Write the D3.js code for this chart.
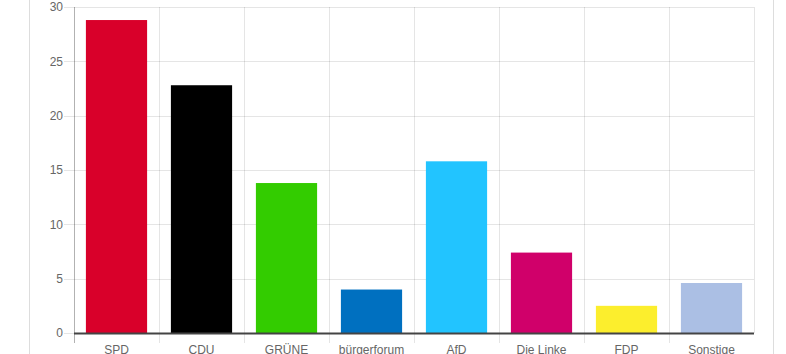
<!DOCTYPE html>
<html>
<head>
<meta charset="utf-8">
<script src="https://cdn.jsdelivr.net/npm/d3@7"></script>
<style>
  body { margin: 0; background: #fff; }
  svg text { font-family: "Liberation Sans", Arial, sans-serif; font-size: 12px; fill: #666; }
</style>
</head>
<body>
<div id="chart"></div>
<script>
// Wahlergebnis data
const parties = ['SPD', 'CDU', 'GRÜNE', 'bürgerforum', 'AfD', 'Die Linke', 'FDP', 'Sonstige'];
const votes = [28.8, 22.8, 13.8, 4.0, 15.8, 7.4, 2.5, 4.6];
const colors = ['#d9002a', '#000000', '#33cc00', '#0070c0', '#22c4ff', '#d0006a', '#fcee2d', '#abbfe4'];
const yTicks = [0, 5, 10, 15, 20, 25, 30];

const width = 786;
const height = 354;
const margin = { top: 7, left: 74, right: 32, bottom: 21 };

const svg = d3.select('#chart')
    .append('svg')
    .attr('width', width)
    .attr('height', height);

// container borders
svg.append('line').attr('x1', 29.5).attr('x2', 29.5).attr('y1', 0).attr('y2', height)
    .attr('stroke', '#ddd');
svg.append('line').attr('x1', 773.5).attr('x2', 773.5).attr('y1', 0).attr('y2', height)
    .attr('stroke', '#ddd');

const x = d3.scaleBand()
    .domain(parties)
    .range([margin.left, width - margin.right - 0]);

const y = d3.scaleLinear()
    .domain([0, 30])
    .range([height - margin.bottom, margin.top]);

// horizontal grid
svg.append('g')
    .selectAll('line')
    .data(yTicks)
    .enter()
    .append('line')
    .attr('x1', margin.left - 10)
    .attr('x2', x.range()[1])
    .attr('y1', d => Math.round(y(d)) + 0.5)
    .attr('y2', d => Math.round(y(d)) + 0.5)
    .attr('stroke', 'rgba(0,0,0,0.1)');

// vertical grid
const edges = parties.map(p => x(p)).concat([x.range()[1]]);
svg.append('g')
    .selectAll('line')
    .data(edges)
    .enter()
    .append('line')
    .attr('x1', d => Math.round(d) + 0.5)
    .attr('x2', d => Math.round(d) + 0.5)
    .attr('y1', margin.top)
    .attr('y2', (d, i) => i < parties.length ? height - margin.bottom + 10 : height - margin.bottom)
    .attr('stroke', (d, i) => i === 0 ? 'rgba(0,0,0,0.3)' : 'rgba(0,0,0,0.1)');

// y labels
svg.append('g')
    .selectAll('text')
    .data(yTicks)
    .enter()
    .append('text')
    .attr('x', margin.left - 11)
    .attr('y', d => y(d))
    .attr('dy', '0.35em')
    .attr('text-anchor', 'end')
    .text(d => d);

// bars (category 0.8 * bar 0.9)
const bw = x.bandwidth() * 0.72;
svg.append('g')
    .selectAll('rect')
    .data(parties)
    .enter()
    .append('rect')
    .attr('x', d => x(d) + (x.bandwidth() - bw) / 2)
    .attr('y', (d, i) => y(votes[i]))
    .attr('width', bw)
    .attr('height', (d, i) => y(0) - y(votes[i]))
    .attr('fill', (d, i) => colors[i]);

// x axis line
svg.append('line')
    .attr('x1', margin.left)
    .attr('x2', x.range()[1])
    .attr('y1', y(0) + 0.5)
    .attr('y2', y(0) + 0.5)
    .attr('stroke', '#444')
    .attr('stroke-width', 2);

// x labels
svg.append('g')
    .selectAll('text')
    .data(parties)
    .enter()
    .append('text')
    .attr('x', d => x(d) + x.bandwidth() / 2)
    .attr('y', 354)
    .attr('text-anchor', 'middle')
    .text(d => d);
</script>
</body>
</html>
